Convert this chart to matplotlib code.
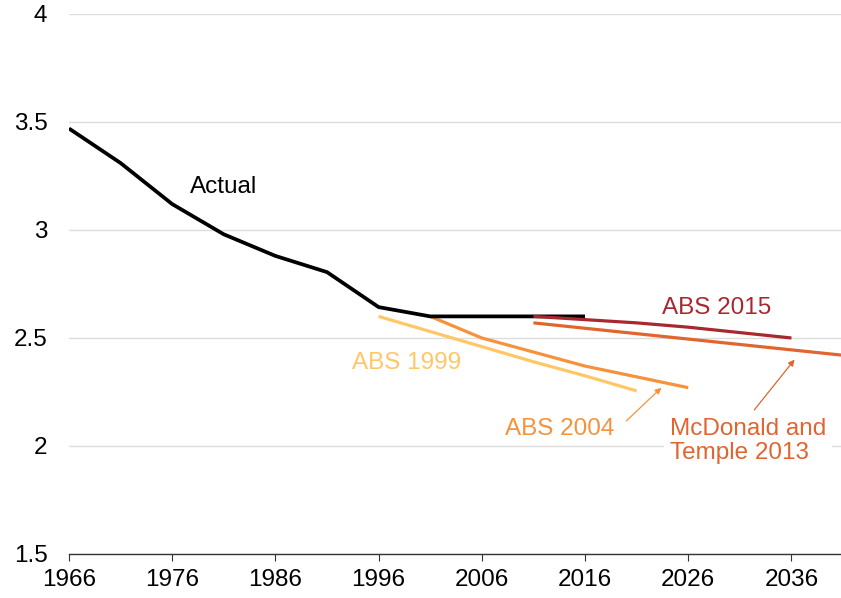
import matplotlib.pyplot as plt

plt.rcParams['font.family'] = ['Liberation Sans', 'DejaVu Sans']

# Actual fertility rate
actual_years = [1966, 1971, 1976, 1981, 1986, 1991, 1996, 2001, 2006, 2011, 2016]
actual_vals = [3.47, 3.31, 3.12, 2.98, 2.88, 2.805, 2.643, 2.60, 2.60, 2.60, 2.60]

# Projections
abs1999_years = [1996, 2001, 2006, 2011, 2016, 2021]
abs1999_vals = [2.60, 2.53, 2.46, 2.39, 2.325, 2.255]

abs2004_years = [2001, 2006, 2011, 2016, 2021, 2026]
abs2004_vals = [2.60, 2.50, 2.435, 2.37, 2.32, 2.27]

abs2015_years = [2011, 2016, 2021, 2026, 2031, 2036]
abs2015_vals = [2.60, 2.585, 2.57, 2.55, 2.525, 2.50]

mcd_years = [2011, 2016, 2021, 2026, 2031, 2036, 2041]
mcd_vals = [2.57, 2.545, 2.52, 2.495, 2.47, 2.445, 2.42]

xticks = [1966, 1976, 1986, 1996, 2006, 2016, 2026, 2036]
yticks = [1.5, 2, 2.5, 3, 3.5, 4]

c_1999 = '#FFC766'
c_2004 = '#F6923C'
c_2015 = '#A8282F'
c_mcd = '#E0652F'

fig = plt.figure(figsize=(8.41, 5.98), dpi=100)
ax = fig.add_axes([0.082, 0.0736, 0.918, 0.903])

# Lines
ax.plot(abs1999_years, abs1999_vals, color=c_1999, lw=2.3, solid_capstyle='butt', zorder=3)
ax.plot(abs2004_years, abs2004_vals, color=c_2004, lw=2.3, solid_capstyle='butt', zorder=3)
ax.plot(mcd_years, mcd_vals, color=c_mcd, lw=2.3, solid_capstyle='butt', zorder=3)
ax.plot(actual_years, actual_vals, color='black', lw=2.7, solid_capstyle='butt', zorder=4)
ax.plot(abs2015_years, abs2015_vals, color=c_2015, lw=2.3, solid_capstyle='butt', zorder=5)

# Labels
fs = 17.5
ax.text(1977.7, 3.20, 'Actual', color='black', fontsize=fs, va='center', ha='left')
ax.text(2023.5, 2.64, 'ABS 2015', color=c_2015, fontsize=fs, va='center', ha='left')
ax.text(1993.4, 2.385, 'ABS 1999', color=c_1999, fontsize=fs, va='center', ha='left')
ax.text(2008.2, 2.08, 'ABS 2004', color=c_2004, fontsize=fs, va='center', ha='left')
ax.text(2024.2, 2.022, 'McDonald and\nTemple 2013', color=c_mcd, fontsize=fs,
        va='center', ha='left', linespacing=1.1, zorder=6,
        bbox=dict(facecolor='white', edgecolor='none', pad=4))

# Arrows
ax.annotate('', xy=(2023.4, 2.27), xytext=(2020.0, 2.116),
            arrowprops=dict(arrowstyle='-|>', color=c_2004, lw=0.9,
                            mutation_scale=9, shrinkA=0, shrinkB=0))
ax.annotate('', xy=(2036.3, 2.40), xytext=(2032.4, 2.167),
            arrowprops=dict(arrowstyle='-|>', color=c_mcd, lw=0.9,
                            mutation_scale=9, shrinkA=0, shrinkB=0))

# Axes styling
ax.set_xlim(1966, 2040.8)
ax.set_ylim(1.5, 4)
ax.set_xticks(xticks)
ax.set_yticks(yticks)
ax.set_yticklabels(['1.5', '2', '2.5', '3', '3.5', '4'])
ax.grid(axis='y', color='#DDDDDD', lw=1)
ax.set_axisbelow(True)
for s in ['top', 'right', 'left']:
    ax.spines[s].set_visible(False)
ax.spines['bottom'].set_color('#333333')
ax.spines['bottom'].set_linewidth(1)
ax.tick_params(axis='y', length=0, pad=15.5, labelsize=fs)
ax.tick_params(axis='x', length=5, direction='out', color='#333333', labelsize=fs, pad=6)

fig.savefig('out.png', dpi=100)
